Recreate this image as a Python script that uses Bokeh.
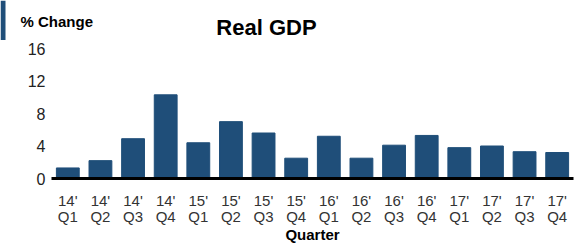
from bokeh.plotting import figure
from bokeh.layouts import column
from bokeh.models import Range1d, FixedTicker, Label, ColumnDataSource, LinearAxis, BoxAnnotation
from bokeh.embed import file_html
from bokeh.resources import INLINE

quarters = ["14' Q1", "14' Q2", "14' Q3", "14' Q4",
            "15' Q1", "15' Q2", "15' Q3", "15' Q4",
            "16' Q1", "16' Q2", "16' Q3", "16' Q4",
            "17' Q1", "17' Q2", "17' Q3", "17' Q4"]
gdp_change = [1.3, 2.2, 4.9, 10.3, 4.4, 7.0, 5.6, 2.5,
              5.2, 2.5, 4.1, 5.3, 3.8, 4.0, 3.3, 3.2]
y_ticks = [0, 4, 8, 12, 16]
title_text = "Real GDP"
y_title_text = "% Change"
x_title_text = "Quarter"

FONT = "Liberation Sans"
BAR = "#1F4E79"
W = 581
TOP_H = 40

# header strip holding the chart title and the y-axis caption
head = figure(width=W, height=TOP_H, x_range=Range1d(0, W), y_range=Range1d(0, TOP_H),
              output_backend="svg", toolbar_location=None, x_axis_type=None,
              y_axis_type=None, min_border=0)
head.frame_align = False
head.outline_line_color = None
head.xgrid.grid_line_color = None
head.ygrid.grid_line_color = None
head.add_layout(BoxAnnotation(left=0, right=5, bottom=0, top=TOP_H,
                              left_units="screen", right_units="screen",
                              bottom_units="screen", top_units="screen",
                              fill_color=BAR, fill_alpha=1, line_color=None))
head.add_layout(Label(x=266, y=13, x_units="screen", y_units="screen", text=title_text,
                      text_font=FONT, text_font_size="22px", text_font_style="bold",
                      text_align="center", text_baseline="middle", text_color="black"))
head.add_layout(Label(x=20, y=19, x_units="screen", y_units="screen", text=y_title_text,
                      text_font=FONT, text_font_size="15px", text_font_style="bold",
                      text_align="left", text_baseline="middle", text_color="black"))

pos = list(range(len(quarters)))
src = ColumnDataSource(dict(x=pos, v=gdp_change))

p = figure(width=W, height=245 - TOP_H, x_range=Range1d(-0.5, len(quarters) - 0.5),
           y_range=Range1d(0, 16), output_backend="svg", toolbar_location=None,
           min_border_left=51, min_border_right=8, min_border_top=8,
           min_border_bottom=65, x_axis_type=None)
p.frame_align = False
p.outline_line_color = None

p.vbar(x="x", top="v", width=0.7, bottom=0, source=src,
       fill_color=BAR, line_color=BAR)

p.xgrid.grid_line_color = None
p.ygrid.grid_line_color = None

p.yaxis.ticker = FixedTicker(ticks=y_ticks)
p.yaxis.axis_line_color = None
p.yaxis.major_tick_line_color = None
p.yaxis.minor_tick_line_color = None
p.yaxis.major_tick_out = 0
p.yaxis.major_label_standoff = 6
p.yaxis.major_label_text_font = FONT
p.yaxis.major_label_text_font_size = "16px"
p.yaxis.major_label_text_color = "#222222"

xa = LinearAxis(ticker=FixedTicker(ticks=pos))
xa.axis_line_color = "black"
xa.axis_line_width = 3
xa.major_tick_line_color = None
xa.minor_tick_line_color = None
xa.major_tick_out = 0
xa.major_tick_in = 0
xa.major_label_standoff = 13
xa.major_label_text_font = FONT
xa.major_label_text_font_size = "15px"
xa.major_label_text_color = "#333333"
xa.major_label_overrides = {i: q.split(" ")[0] for i, q in zip(pos, quarters)}
p.add_layout(xa, "below")

xb = LinearAxis(ticker=FixedTicker(ticks=pos))
xb.axis_line_color = None
xb.major_tick_line_color = None
xb.minor_tick_line_color = None
xb.major_tick_out = 0
xb.major_tick_in = 0
xb.major_label_standoff = -4
xb.major_label_text_font = FONT
xb.major_label_text_font_size = "15px"
xb.major_label_text_color = "#333333"
xb.major_label_overrides = {i: q.split(" ")[1] for i, q in zip(pos, quarters)}
xb.axis_label = x_title_text
xb.axis_label_standoff = -2
xb.axis_label_text_font = FONT
xb.axis_label_text_font_size = "15px"
xb.axis_label_text_font_style = "bold"
xb.axis_label_text_color = "black"
p.add_layout(xb, "below")

layout = column(head, p, spacing=0)
open("out.html", "w").write(file_html(layout, INLINE))
